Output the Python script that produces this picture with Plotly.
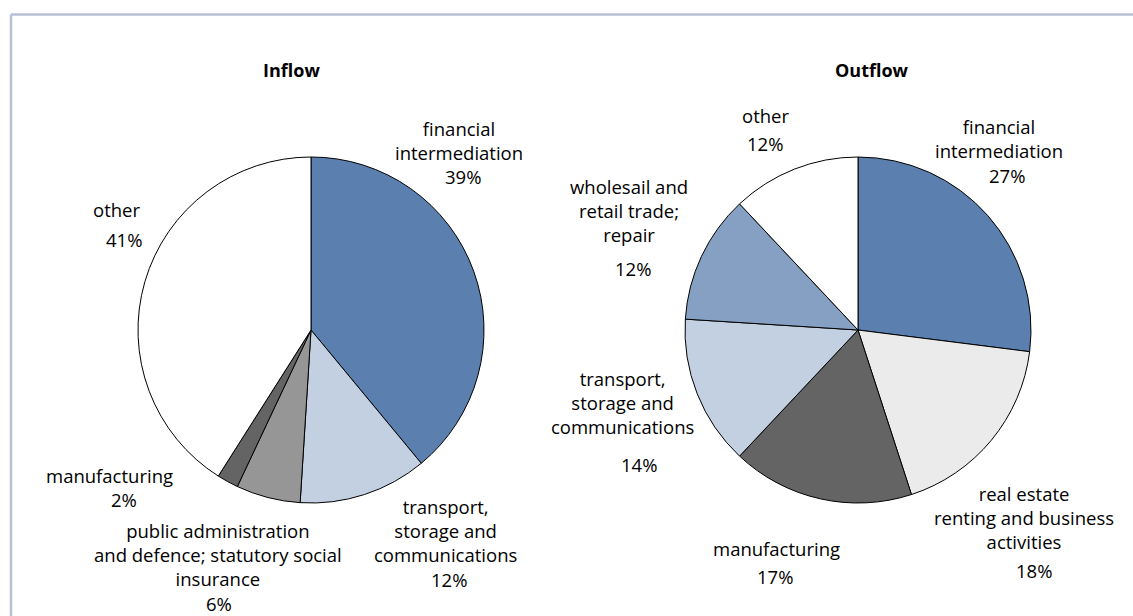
import plotly.graph_objects as go

W, H = 1133, 616

# ---- data ----
inflow_labels = ["financial<br>intermediation", "transport,<br>storage and<br>communications",
                 "public administration<br>and defence; statutory social<br>insurance",
                 "manufacturing", "other"]
inflow_values = [39, 12, 6, 2, 41]

outflow_labels = ["financial<br>intermediation", "real estate<br>renting and business<br>activities",
                  "manufacturing", "transport,<br>storage and<br>communications",
                  "wholesail and<br>retail trade;<br>repair", "other"]
outflow_values = [27, 18, 17, 14, 12, 12]

titles = ["Inflow", "Outflow"]

# ---- styles ----
inflow_colors = ["#5b7fae", "#c3d0e2", "#969696", "#646464", "#ffffff"]
outflow_colors = ["#5b7fae", "#ebebeb", "#646464", "#c3d0e2", "#86a0c4", "#ffffff"]

# pixel positions (centers) of name blocks and percent labels
inflow_name_pos = [(459, 140), (445, 530), (218, 554), (109, 475), (116, 210)]
inflow_pct_pos = [(463, 176), (449, 579), (219, 603), (124, 499), (124, 239)]
outflow_name_pos = [(999, 138), (1024, 517), (776, 548), (622, 402), (629, 211), (765, 115)]
outflow_pct_pos = [(1007, 175), (1034, 570), (775, 576), (639, 464), (633, 268), (765, 144)]
title_pos = [(291, 70), (872, 70)]

pie_centers = [(311, 330), (858, 330)]
R = 173

FONT = "Open Sans"
FS = 18.5


def px_to_paper(x, y):
    return x / W, 1 - y / H


def domain(cx, cy):
    return dict(x=[(cx - R) / W, (cx + R) / W], y=[1 - (cy + R) / H, 1 - (cy - R) / H])


fig = go.Figure()
for vals, labs, cols, (cx, cy) in [
    (inflow_values, inflow_labels, inflow_colors, pie_centers[0]),
    (outflow_values, outflow_labels, outflow_colors, pie_centers[1]),
]:
    fig.add_trace(go.Pie(
        values=vals, labels=labs, sort=False, direction="clockwise", rotation=0,
        marker=dict(colors=cols, line=dict(color="#000000", width=1)),
        textinfo="none", hoverinfo="skip", showlegend=False,
        domain=domain(cx, cy),
    ))

annotations = []


def add_text(txt, pos, bold=False, size=FS):
    x, y = px_to_paper(*pos)
    annotations.append(dict(
        x=x, y=y, xref="paper", yref="paper", text=("<b>%s</b>" % txt) if bold else txt,
        showarrow=False, xanchor="center", yanchor="middle", align="center",
        font=dict(family=FONT, size=size, color="#000000"),
    ))


for labs, vals, npos, ppos in [
    (inflow_labels, inflow_values, inflow_name_pos, inflow_pct_pos),
    (outflow_labels, outflow_values, outflow_name_pos, outflow_pct_pos),
]:
    for lab, v, np_, pp in zip(labs, vals, npos, ppos):
        add_text(lab, np_)
        add_text("%d%%" % v, pp)

for t, p in zip(titles, title_pos):
    add_text(t, p, bold=True, size=18)

border_color = "#b7c0d5"
bx = 11 / W
by = 1 - 14.5 / H
shapes = [
    dict(type="line", xref="paper", yref="paper", x0=bx, y0=0, x1=bx, y1=by,
         line=dict(color=border_color, width=2.5)),
    dict(type="line", xref="paper", yref="paper", x0=bx, y0=by, x1=1, y1=by,
         line=dict(color=border_color, width=2.5)),
]

fig.update_layout(
    width=W, height=H, margin=dict(l=0, r=0, t=0, b=0),
    paper_bgcolor="#ffffff", plot_bgcolor="#ffffff",
    annotations=annotations, shapes=shapes,
    font=dict(family=FONT, size=FS, color="#000000"),
)

fig.write_html("out.html", config={"displayModeBar": False},
               post_script="document.body.style.margin='0px';document.body.style.overflow='hidden';")
